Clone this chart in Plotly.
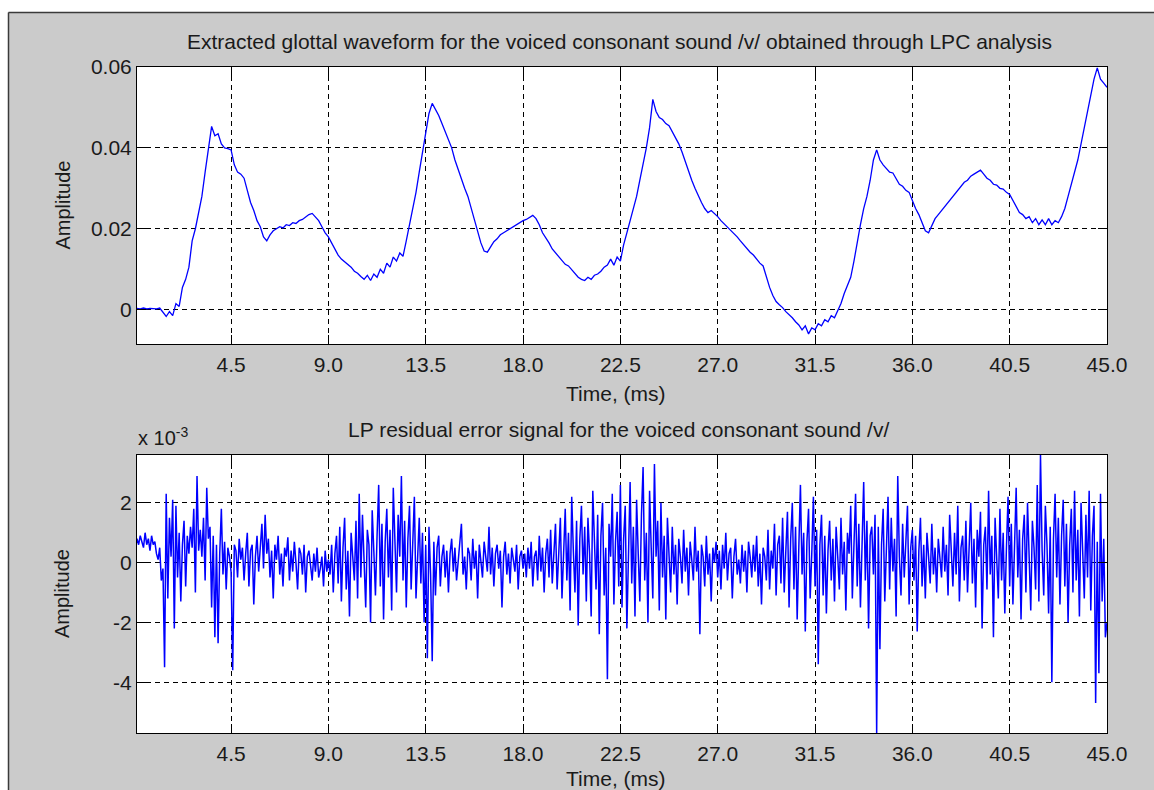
import numpy as np
import plotly.graph_objects as go

# ---------------------------------------------------------------------------
# Data
# ---------------------------------------------------------------------------
glottal_step_ms = 0.15      # sample spacing of the glottal waveform trace
residual_step_ms = 0.075    # sample spacing of the residual trace

# Extracted glottal waveform, amplitude in units of 1e-3
glottal_milli = [
    0.3, 0.2, 0.4, 0.2, 0.3, 0.3, 0.2, 0.4, -0.8, -1.7,
    -0.5, -1.5, 1.5, 0.8, 5.5, 7.5, 10.5, 17, 20, 24,
    28, 34, 40, 45.3, 43, 43.5, 41, 40, 39.8, 39.5,
    35.8, 34, 33.5, 32.5, 29.5, 26.5, 24.5, 22, 20.5, 18,
    17, 18.5, 19.5, 20, 20.5, 20.2, 21, 20.8, 21.5, 21.3,
    22, 22.3, 23, 23.5, 23.8, 23, 22, 20.5, 19, 18,
    16.5, 15, 13.5, 12.5, 11.8, 11, 10.5, 9.5, 9, 8.2,
    7.5, 8.5, 7.2, 8.8, 8, 10, 9, 11.5, 10.5, 13,
    12, 14, 13.2, 17, 21, 25, 29, 34, 39, 44,
    48.5, 51, 49.5, 48, 46, 44, 42, 40, 37, 34.5,
    32.5, 30, 28, 25, 22, 19, 16.5, 14.5, 14.2, 15.5,
    16.8, 17.5, 18.5, 19, 19.5, 20.2, 20.5, 21, 21.5, 22,
    22.3, 22.8, 23.3, 22.5, 21, 19, 17.8, 16.5, 15, 14,
    13, 12, 11.2, 10.8, 9.8, 9, 8, 7.5, 7.2, 8,
    7.5, 8.5, 8.8, 9.5, 10.5, 11, 12.5, 11, 13, 12,
    16, 19, 22, 25, 28, 32, 36, 40, 45, 52,
    49, 47.5, 47, 46, 45.5, 44, 42.5, 41, 39, 36.5,
    34, 32, 30, 28, 26.5, 25, 24, 24.5, 23.8, 23,
    22, 21.2, 20.5, 19.5, 18.8, 18, 17, 16, 15, 14.2,
    13.5, 12.5, 11.5, 10.8, 8, 5.5, 3.5, 2, 1.2, 0.5,
    -0.5, -1.2, -2, -3, -3.8, -5, -4, -6, -4.5, -5,
    -3.5, -4, -2.5, -3, -1.5, -2, 0, 1.5, 4, 6,
    8, 12, 17, 21, 25, 28, 32, 37, 39.5, 37,
    35.8, 35, 34, 33.8, 32.5, 31, 30.5, 29.5, 29, 27,
    25, 23.5, 21.5, 19.5, 19, 21, 22.5, 23.5, 24.5, 25.5,
    26.5, 27.5, 28.5, 29.5, 30.5, 31.5, 32, 33, 33.5, 34,
    34.5, 33.5, 32.5, 32, 31, 30.8, 30, 29.8, 29, 28.5,
    27, 25.5, 24, 23.5, 22.5, 23, 21.5, 22.5, 21, 22.2,
    21, 22.5, 21, 22, 21.5, 23, 25, 28, 31, 34.5,
    37, 41, 45, 49, 53, 57, 59.8, 57, 56, 55,
]

# LP residual error signal, amplitude in units of 1e-3
residual_milli = [
    0.5, 0.8, 0.6, 0.9, 0.7, 0.5, 1.0, 0.6, 0.8, 0.4, 0.9, 0.6, 0.7, 0.3, 0.1, 0.5, -0.6, -0.2, -3.5, 2.3,
    -1.2, 1.5, 0.2, 2.1, -2.2, 1.9, -0.5, 1.0, -1.3, 0.6, 1.4, -0.8, 0.9, 0.3, 1.2, 0.5, 1.8, -1.0, 2.9, 0.4,
    1.1, 0.2, 1.5, -0.6, 2.5, 0.8, 1.2, -1.5, 0.9, -2.5, 0.6, -2.7, 0.3, 1.8, -0.4, 0.7, -0.9, 0.5, 0.2, -0.3,
    -3.6, 0.6, 0.4, -0.5, 0.8, 0.1, 0.5, -0.6, 0.3, 1.0, -0.8, 0.4, 0.6, -1.4, 0.2, 0.9, -0.3, 0.5, 1.3, -0.2,
    1.6, 0.3, 0.8, -0.5, 0.4, -1.2, 0.6, 0.1, 0.9, -0.4, 0.3, -0.8, 0.5, 0.2, 0.85, -0.6, 0.4, -0.3, 0.7, 0.0,
    -0.9, 0.5, 0.3, -0.4, 0.6, -1.0, 0.2, 0.4, -0.2, -0.6, 0.3, -0.3, 0.5, -0.5, -0.2, 0.2, -0.8, 0.4, -0.3, 0.1,
    -0.4, 0.6, -1.0, 0.3, 0.9, -0.7, 1.2, -1.3, 0.5, 1.5, -0.9, 0.4, -1.8, 1.0, 0.2, -0.6, 1.4, -1.2, 2.3, -0.5,
    1.6, 0.3, -1.5, 1.1, 0.6, -2.0, 1.75, 0.4, -1.1, 0.9, 2.6, -0.8, 1.3, -1.9, 0.7, 1.8, -0.5, 1.1, -1.6, 2.5,
    0.4, -1.0, 1.6, 0.2, 2.9, -0.6, 1.4, -1.5, 0.8, 1.9, -0.9, 0.5, 2.2, -1.2, 0.3, 1.5, -0.7, 1.0, -2.0, 0.6,
    -3.2, 1.2, -0.4, -3.3, 0.7, -1.1, 0.5, 0.9, -0.8, 0.2, 0.6, -0.5, 0.4, -1.0, 0.3, 0.8, -0.3, 0.5, -0.6, 0.1,
    0.6, 1.3, -0.4, 0.2, -0.9, 0.5, 0.3, -0.6, 0.8, -0.2, 0.4, -1.2, 0.6, 0.1, -0.5, 0.7, 0.2, -0.3, 1.2, -0.4,
    0.5, -0.8, 0.3, 0.6, -0.2, 0.4, -1.5, 0.2, 0.7, -0.4, 0.3, -0.7, 0.5, 0.1, -0.3, 0.6, -0.9, 0.2, 0.4, -0.2,
    0.3, -0.5, 0.5, -0.2, 0.7, -0.8, 0.2, 0.4, -0.6, 0.9, -0.3, 0.5, -1.0, 0.3, 0.8, -0.5, 1.1, -0.7, 0.4, 1.3,
    -0.9, 0.6, 1.5, -1.2, 0.3, 1.8, -0.6, 1.0, -1.6, 2.2, 0.4, -1.0, 1.4, -2.1, 0.8, 1.9, -0.4, 1.2, -1.3, 1.5,
    0.3, -1.8, 2.4, 0.6, -0.9, 1.6, -2.4, 0.9, 2.0, -1.1, 0.5, -3.9, 1.3, 0.2, 2.3, -1.4, 0.7, 1.7, -0.8, 2.6,
    -1.5, 0.8, 1.9, -2.2, 0.4, 2.7, -0.7, 1.2, -1.8, 2.1, 0.3, -1.3, 1.6, 3.2, -0.6, 1.0, -2.0, 2.4, 0.5, -1.2,
    3.3, 0.2, 1.4, -1.6, 2.0, -0.5, 0.9, -1.9, 1.5, 0.3, -1.0, 1.2, -0.4, 0.6, -1.4, 0.8, 0.2, -0.7, 1.1, -0.3,
    0.5, -1.1, 0.7, 0.1, -0.6, 1.2, -0.3, 0.4, -2.4, 0.6, 0.2, -0.8, 0.9, -0.4, 0.3, -1.3, 0.5, 0.0, 0.7, -0.5,
    0.4, -0.9, 0.6, -0.2, 1.0, -0.6, 0.3, 0.5, -1.2, 0.2, 0.8, -0.4, 0.1, -0.7, 0.6, -0.3, 0.4, -1.0, 0.7, 0.2,
    -0.5, 0.6, -0.3, 0.9, -0.8, 0.3, -1.4, 0.5, 0.2, -0.6, 1.1, -0.9, 0.4, -0.2, 1.3, -1.1, 0.6, 0.9, -0.7, 1.5,
    -1.0, 0.4, 1.7, -1.5, 0.8, 2.0, -0.9, 1.2, -1.9, 0.5, 2.6, -0.4, 1.0, -2.3, 0.7, 1.8, -1.2, 0.3, 2.2, -0.8,
    1.1, -3.4, 0.6, 1.6, -1.1, 0.9, -1.7, 0.4, 1.4, -0.6, 0.8, -1.3, 1.2, 0.2, -0.9, 1.5, -0.4, 0.7, -1.6, 1.0,
    0.3, 1.9, -1.2, 0.6, 2.3, -0.8, 1.3, -1.5, 0.5, 2.7, -0.6, 1.4, -2.2, 0.9, 1.2, -0.4, 1.6, -5.7, 1.2, -2.9,
    0.6, 1.8, -1.3, 0.4, 2.2, -0.9, 1.5, -0.3, 0.8, -1.8, 2.9, 0.2, -1.1, 1.3, -0.5, 0.7, 1.9, -1.4, 0.5, 1.1,
    -0.6, 0.9, -2.3, 0.4, 1.5, -0.8, 0.6, -1.2, 1.0, 0.2, -0.7, 1.3, -0.4, 0.5, -1.0, 0.8, 0.1, -0.5, 1.2, -0.3,
    0.6, -1.1, 1.6, 0.3, -0.8, 1.0, -0.4, 1.9, -1.3, 0.5, 0.9, -0.6, 1.4, -1.0, 0.4, 2.0, -0.7, 0.8, -1.5, 1.1,
    0.2, 1.7, -2.2, 0.6, 1.2, -0.9, 2.4, -0.4, 0.9, -2.5, 1.5, 0.3, -1.2, 1.8, -0.6, 1.0, -1.7, 0.5, 2.2, -0.8,
    1.3, -1.4, 0.6, 2.5, -0.5, 1.1, -1.9, 0.8, 1.6, -1.0, 2.0, 0.3, -1.6, 1.4, 0.5, -0.9, 2.6, -1.3, 3.6, 0.4,
    -1.1, 1.9, 0.6, -1.7, 1.2, -4.0, 0.8, 2.3, -0.5, 1.5, -1.4, 0.9, 2.1, -0.8, 1.3, -2.0, 0.6, 1.8, -1.0, 2.4,
    -0.6, 1.1, -1.8, 2.0, 0.4, -1.2, 1.6, -0.5, 2.4, -1.6, 0.9, 1.9, -4.7, 0.7, -3.7, 2.3, -1.3, 0.8, -2.5, -2.0,
]

time_ticks = [4.5, 9.0, 13.5, 18.0, 22.5, 27.0, 31.5, 36.0, 40.5, 45.0]
time_tick_text = ["4.5", "9.0", "13.5", "18.0", "22.5", "27.0", "31.5", "36.0", "40.5", "45.0"]
glottal_ticks = [0, 0.02, 0.04, 0.06]
glottal_tick_text = ["0", "0.02", "0.04", "0.06"]
residual_ticks = [-4, -2, 0, 2]
residual_tick_text = ["-4", "-2", "0", "2"]

glottal_time = (np.arange(len(glottal_milli)) + 1) * glottal_step_ms
glottal_amp = np.array(glottal_milli) * 1e-3
residual_time = (np.arange(len(residual_milli)) + 1) * residual_step_ms

# ---------------------------------------------------------------------------
# Layout geometry (pixels of a 1154 x 790 canvas)
# ---------------------------------------------------------------------------
W, H = 1154, 790
AX_L, AX_R = 137, 1107
TOP_T, TOP_B = 67, 344
BOT_T, BOT_B = 455, 733


def px(x):
    return x / W


def py(y):
    return 1 - y / H


FONT = "Liberation Sans, Arial, Helvetica, sans-serif"
TXT = "#1a1a1a"
BG = "#cbcbcb"

fig = go.Figure()
fig.add_trace(go.Scatter(x=glottal_time, y=glottal_amp, mode="lines",
                         line=dict(color="#0000ff", width=1.3),
                         xaxis="x", yaxis="y", showlegend=False))
fig.add_trace(go.Scatter(x=residual_time, y=residual_milli, mode="lines",
                         line=dict(color="#0000ff", width=1.5),
                         xaxis="x2", yaxis="y2", showlegend=False))

axis_common = dict(
    showline=True, linecolor="black", linewidth=1, mirror="ticks",
    ticks="inside", ticklen=9, tickcolor="black", tickwidth=1,
    showgrid=True, gridcolor="black", gridwidth=1, griddash="5px,4px",
    zeroline=False, automargin=False,
    tickfont=dict(family=FONT, size=21, color=TXT),
    fixedrange=True,
)

fig.update_layout(
    width=W, height=H, autosize=False,
    margin=dict(l=0, r=0, t=0, b=0, pad=0),
    paper_bgcolor=BG, plot_bgcolor="white",
    font=dict(family=FONT, size=21, color=TXT),
    xaxis=dict(domain=[px(AX_L), px(AX_R)], anchor="y", range=[0.15, 45.0],
               tickvals=time_ticks, ticktext=time_tick_text,
               ticklabelstandoff=2, **axis_common),
    yaxis=dict(domain=[py(TOP_B), py(TOP_T)], anchor="x", range=[-0.0085, 0.06],
               tickvals=glottal_ticks, ticktext=glottal_tick_text, **axis_common),
    xaxis2=dict(domain=[px(AX_L), px(AX_R)], anchor="y2", range=[0.15, 45.0],
                tickvals=time_ticks, ticktext=time_tick_text,
                ticklabelstandoff=2, **axis_common),
    yaxis2=dict(domain=[py(BOT_B), py(BOT_T)], anchor="x2", range=[-5.7, 3.6],
                tickvals=residual_ticks, ticktext=residual_tick_text, **axis_common),
)

# Figure window frame: white strip outside, dark edge on the left and top
fig.add_shape(type="rect", xref="paper", yref="paper", x0=0, x1=1, y0=py(12), y1=1,
              fillcolor="white", line=dict(width=0), layer="above")
fig.add_shape(type="rect", xref="paper", yref="paper", x0=0, x1=px(8), y0=0, y1=1,
              fillcolor="white", line=dict(width=0), layer="above")
fig.add_shape(type="line", xref="paper", yref="paper", x0=px(8.5), x1=px(8.5), y0=0, y1=py(12.5),
              line=dict(color="#3a3a3a", width=1.5), layer="above")
fig.add_shape(type="line", xref="paper", yref="paper", x0=px(8.5), x1=1, y0=py(12.5), y1=py(12.5),
              line=dict(color="#3a3a3a", width=1.5), layer="above")


def label(text, x, y, size=21, xanchor="center", **kw):
    fig.add_annotation(text=text, xref="paper", yref="paper", x=px(x), y=py(y),
                       xanchor=xanchor, yanchor="middle",
                       showarrow=False, font=dict(family=FONT, size=size, color=TXT),
                       **kw)


mid = (AX_L + AX_R) / 2
label("Extracted glottal waveform for the voiced consonant sound /v/ obtained through LPC analysis",
      619, 42)
label("Time, (ms)", mid - 6, 393)
label("Amplitude", 62, (TOP_T + TOP_B) / 2, size=20, textangle=-90)
label("LP residual error signal for the voiced consonant sound /v/", mid - 4, 429)
label("x 10<sup>-3</sup>", 136, 437, size=20, xanchor="left")
label("Time, (ms)", mid - 6, 778)
label("Amplitude", 62, (BOT_T + BOT_B) / 2, size=20, textangle=-90)

fig.write_html("out.html", config={"responsive": False, "displayModeBar": False})
